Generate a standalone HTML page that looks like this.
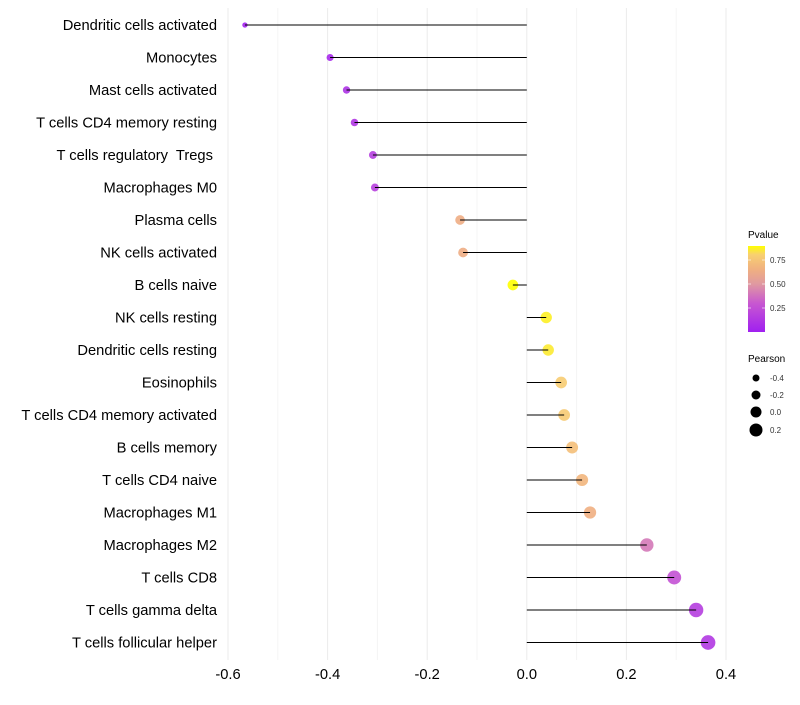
<!DOCTYPE html>
<html><head><meta charset="utf-8"><style>
body{margin:0;background:#fff;font-family:"Liberation Sans",sans-serif}
text{white-space:pre}
</style></head><body>
<svg id="chart" width="800" height="700" xmlns="http://www.w3.org/2000/svg" font-family="Liberation Sans, sans-serif">
<g id="grid"></g>
<g id="points"></g>
<g id="marks"></g>
<g id="ylabels"></g>
<g id="xlabels"></g>
<g>
<defs><linearGradient id="pg" x1="0" y1="1" x2="0" y2="0">
<stop offset="0" stop-color="#a020f0"/><stop offset="0.337" stop-color="#c858d0"/><stop offset="0.562" stop-color="#e09aa0"/><stop offset="0.73" stop-color="#f0b080"/><stop offset="0.9" stop-color="#f8d070"/><stop offset="1" stop-color="#ffff00"/></linearGradient></defs>
<text x="748" y="238" font-size="10">Pvalue</text>
<rect x="748" y="246" width="17" height="86" fill="url(#pg)"/>
<g stroke="#fff" stroke-opacity="0.6"><line x1="748" x2="751" y1="260" y2="260"/><line x1="762" x2="765" y1="260" y2="260"/><line x1="748" x2="751" y1="284" y2="284"/><line x1="762" x2="765" y1="284" y2="284"/><line x1="748" x2="751" y1="308" y2="308"/><line x1="762" x2="765" y1="308" y2="308"/></g>
<g font-size="8" fill="#333"><text x="770" y="263">0.75</text><text x="770" y="287">0.50</text><text x="770" y="311">0.25</text></g>
</g>
<g>
<text x="748" y="362" font-size="10">Pearson</text>
<circle cx="756" cy="378" r="3.5"/><circle cx="756" cy="395" r="4.5"/><circle cx="756" cy="412" r="5.5"/><circle cx="756" cy="430" r="6.5"/>
<g font-size="8" fill="#333"><text x="770" y="381">-0.4</text><text x="770" y="398">-0.2</text><text x="770" y="415">0.0</text><text x="770" y="433">0.2</text></g>
</g>
</svg>
<script>
const categories=["Dendritic cells activated","Monocytes","Mast cells activated","T cells CD4 memory resting","T cells regulatory  Tregs ","Macrophages M0","Plasma cells","NK cells activated","B cells naive","NK cells resting","Dendritic cells resting","Eosinophils","T cells CD4 memory activated","B cells memory","T cells CD4 naive","Macrophages M1","Macrophages M2","T cells CD8","T cells gamma delta","T cells follicular helper"];
const pearson=[-0.566,-0.395,-0.362,-0.346,-0.309,-0.305,-0.134,-0.128,-0.028,0.039,0.043,0.069,0.075,0.091,0.111,0.127,0.241,0.296,0.340,0.364];
const pvalue=[0.02,0.05,0.1,0.12,0.16,0.17,0.63,0.63,0.89,0.86,0.85,0.78,0.77,0.72,0.68,0.64,0.4,0.26,0.16,0.13];
const xTicks=[-0.6,-0.4,-0.2,0.0,0.2,0.4];
const xMinor=[-0.5,-0.3,-0.1,0.1,0.3];
const NS="http://www.w3.org/2000/svg";
const x=v=>526.8+v*498;
const y=i=>25+i*32.5;
const rad=v=>5.5+5*v;
const stops=[[0,[160,32,240]],[0.3,[200,88,208]],[0.5,[224,154,160]],[0.65,[240,176,128]],[0.8,[248,208,112]],[0.89,[255,255,0]]];
function col(p){p=Math.max(0,Math.min(0.89,p));for(let k=1;k<stops.length;k++){if(p<=stops[k][0]){const[a0,a]=stops[k-1],[b0,b]=stops[k];const t=(p-a0)/(b0-a0);return "rgb("+a.map((c,j)=>Math.round(c+(b[j]-c)*t)).join(",")+")";}}return "rgb(255,255,0)";}
function mk(tag,attrs,parent){const e=document.createElementNS(NS,tag);for(const k in attrs)e.setAttribute(k,attrs[k]);parent.appendChild(e);return e;}
const grid=document.getElementById('grid'),pts=document.getElementById('points'),marks=document.getElementById('marks'),yl=document.getElementById('ylabels'),xl=document.getElementById('xlabels');
xMinor.forEach(v=>{const l=mk('line',{x1:x(v),x2:x(v),y1:8,y2:660,stroke:'#f4f4f4','stroke-width':1},grid);

});
xTicks.forEach(v=>{const l=mk('line',{x1:x(v),x2:x(v),y1:8,y2:660,stroke:'#ebebeb','stroke-width':1},grid);


const t=mk('text',{x:x(v),y:679,'font-size':14.7,'text-anchor':'middle',fill:'#000'},xl);t.textContent=v.toFixed(1);

});
categories.forEach((c,i)=>{
const p=mk('circle',{cx:x(pearson[i]),cy:y(i),r:rad(pearson[i]),fill:col(pvalue[i]),'fill-opacity':0.9},pts);


const l=mk('line',{x1:x(0),x2:x(pearson[i]),y1:y(i),y2:y(i),stroke:'#000','stroke-width':1},marks);


const t=mk('text',{x:217,y:y(i)+5,'font-size':14.7,'text-anchor':'end',fill:'#000'},yl);t.textContent=c;


});
</script>
</body></html>
